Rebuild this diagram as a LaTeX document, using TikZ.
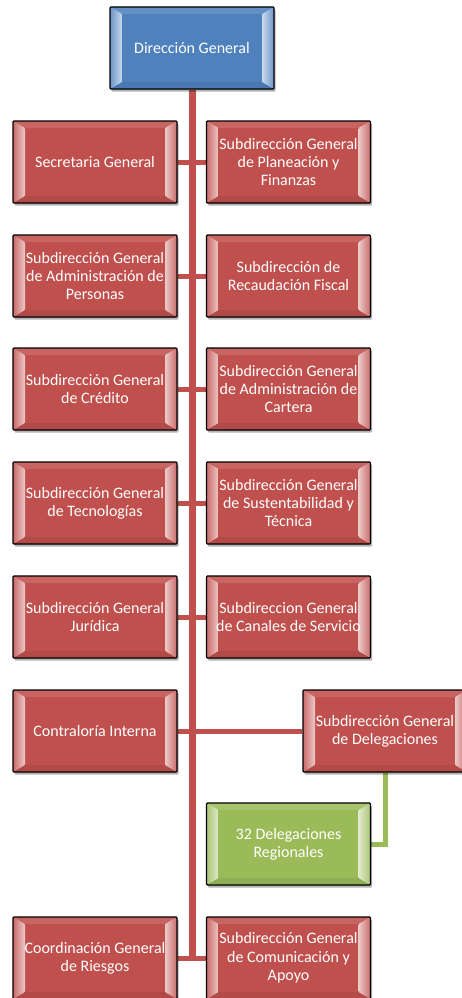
\documentclass[tikz,border=0pt]{standalone}
\usepackage{fontspec}
\setmainfont{Carlito}
\usetikzlibrary{shadows,backgrounds,calc}
\definecolor{redbox}{HTML}{C0504D}
\definecolor{bluebox}{HTML}{4F81BD}
\definecolor{greenbox}{HTML}{9BBB59}
\tikzset{
  orgbox/.style={draw=black, line width=1.3pt, fill=#1, rounded corners=1pt,
    minimum width=164pt, minimum height=82pt, inner sep=1pt,
    align=center, text=white, font=\fontsize{16pt}{18.3pt}\selectfont,
    drop shadow={shadow xshift=1.5pt, shadow yshift=-2.5pt, opacity=0.3, fill=black},
    path picture={
      \coordinate (nw) at (path picture bounding box.north west);
      \coordinate (ne) at (path picture bounding box.north east);
      \coordinate (sw) at (path picture bounding box.south west);
      \coordinate (se) at (path picture bounding box.south east);
      \fill[#1!88!white] (nw) -- (ne) -- ($(ne)+(-12pt,-7pt)$) -- ($(nw)+(12pt,-7pt)$) -- cycle;
      \fill[#1!93!black] (sw) -- (se) -- ($(se)+(-12pt,7pt)$) -- ($(sw)+(12pt,7pt)$) -- cycle;
      \shade[left color=#1!85!white, right color=#1!30!white] (nw) -- ($(nw)+(12pt,-7pt)$) -- ($(sw)+(12pt,7pt)$) -- (sw) -- cycle;
      \shade[right color=#1!85!white, left color=#1!30!white] (ne) -- ($(ne)+(-12pt,-7pt)$) -- ($(se)+(-12pt,7pt)$) -- (se) -- cycle;
    }},
  trunk/.style={draw=redbox, line width=7pt},
  branch/.style={draw=redbox, line width=5pt},
  gbranch/.style={draw=greenbox, line width=5pt}
}
\begin{document}
\begin{tikzpicture}[x=1pt,y=-1pt]
\useasboundingbox (0,0) rectangle (461,998);
\node[orgbox=bluebox] (dg) at (192,48) {Dirección General};
\node[orgbox=redbox] (sec) at (95,162) {Secretaria General};
\node[orgbox=redbox] (plan) at (288.5,162) {Subdirección General\\de Planeación y\\Finanzas};
\node[orgbox=redbox] (pers) at (95,276) {Subdirección General\\de Administración de\\Personas};
\node[orgbox=redbox] (recaud) at (288.5,276) {Subdirección de\\Recaudación Fiscal};
\node[orgbox=redbox] (cred) at (95,389) {Subdirección General\\de Crédito};
\node[orgbox=redbox] (cart) at (288.5,389) {Subdirección General\\de Administración de\\Cartera};
\node[orgbox=redbox] (tec) at (95,503) {Subdirección General\\de Tecnologías};
\node[orgbox=redbox] (sust) at (288.5,503) {Subdirección General\\de Sustentabilidad y\\Técnica};
\node[orgbox=redbox] (jur) at (95,617) {Subdirección General\\Jurídica};
\node[orgbox=redbox] (canal) at (288.5,617) {Subdireccion General\\de Canales de Servicio};
\node[orgbox=redbox] (contra) at (95,731) {Contraloría Interna};
\node[orgbox=redbox] (deleg) at (385,731) {Subdirección General\\de Delegaciones};
\node[orgbox=greenbox] (reg) at (288.5,844) {32 Delegaciones\\Regionales};
\node[orgbox=redbox] (riesg) at (95,958) {Coordinación General\\de Riesgos};
\node[orgbox=redbox] (comun) at (288.5,958) {Subdirección General\\de Comunicación y\\Apoyo};
\coordinate (tend) at (192,960);
\begin{scope}[on background layer]
\draw[trunk] (dg.south) -- (tend);
\draw[branch] (sec.east) -- (plan.west);
\draw[branch] (pers.east) -- (recaud.west);
\draw[branch] (cred.east) -- (cart.west);
\draw[branch] (tec.east) -- (sust.west);
\draw[branch] (jur.east) -- (canal.west);
\draw[branch] (contra.east) -- (deleg.west);
\draw[branch] (riesg.east) -- (comun.west);
\draw[gbranch] (deleg.south) |- (reg.east);
\end{scope}
\end{tikzpicture}
\end{document}
